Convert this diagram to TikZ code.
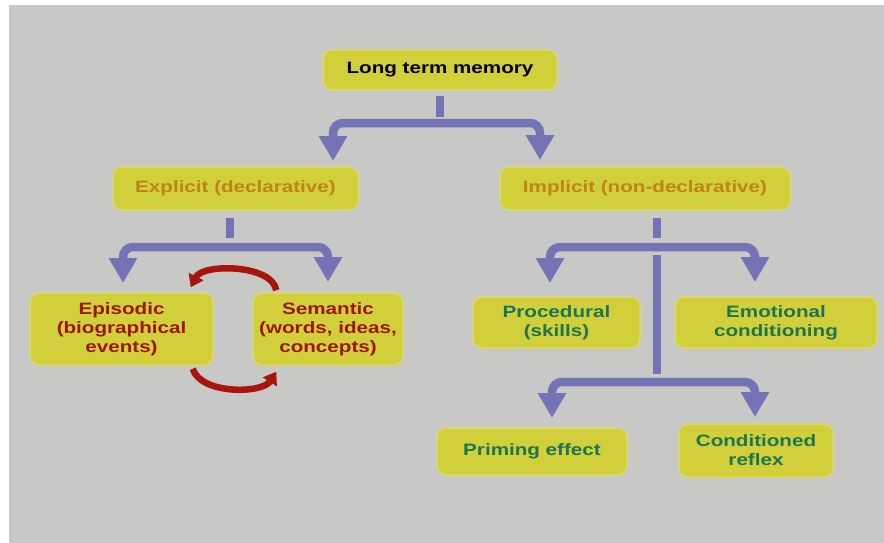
\documentclass[tikz,border=0pt]{standalone}
\usepackage{fontspec}
\newfontfamily\dfont[FakeStretch=1.25]{Liberation Sans}
\usetikzlibrary{arrows.meta}
\definecolor{bg}{HTML}{C8C8C6}
\definecolor{boxy}{HTML}{D2D03A}
\definecolor{boxedge}{HTML}{DAD96E}
\definecolor{txtor}{HTML}{C0821A}
\definecolor{txtred}{HTML}{9E150E}
\definecolor{txtgr}{HTML}{1C7452}
\definecolor{arrblue}{HTML}{7373B5}
\definecolor{arcred}{HTML}{A8150F}
\tikzset{
  box/.style={rounded corners=9pt, fill=boxy, draw=boxedge, line width=1.5pt,
    inner sep=0pt, align=center, font=\dfont\bfseries\fontsize{16.5}{19}\selectfont},
  stub/.style={draw=arrblue, line width=8pt},
  barr/.style={draw=arrblue, line width=8.5pt, rounded corners=10pt,
    {Triangle[width=27pt,length=25pt]}-{Triangle[width=27pt,length=25pt]}},
  arcarr/.style={draw=arcred, line width=6.5pt, -{Triangle[width=16pt,length=12pt]}},
}
\begin{document}
\begin{tikzpicture}[x=1pt,y=-1pt]
\useasboundingbox (0,0) rectangle (884,543);
\fill[white] (0,0) rectangle (884,543);
\fill[bg] (9,5) rectangle (884,543);

% nodes
\node[box, minimum width=234pt, minimum height=40pt, text=black] (ltm) at (440,70) {Long term memory};
\node[box, minimum width=245pt, minimum height=43pt, text=txtor] (expl) at (235.5,188.5) {Explicit (declarative)};
\node[box, minimum width=290pt, minimum height=43pt, text=txtor] (impl) at (645,188.5) {Implicit (non-declarative)};
\node[box, minimum width=183pt, minimum height=72pt, text=txtred] (epi) at (121.5,329) {Episodic\\(biographical\\events)};
\node[box, minimum width=150pt, minimum height=72pt, text=txtred] (sem) at (328,329) {Semantic\\(words, ideas,\\concepts)};
\node[box, minimum width=167pt, minimum height=51pt, text=txtgr] (proc) at (556.5,322.5) {Procedural\\(skills)};
\node[box, minimum width=202pt, minimum height=51pt, text=txtgr] (emo) at (776,322.5) {Emotional\\conditioning};
\node[box, minimum width=190pt, minimum height=47pt, text=txtgr] (prim) at (532,451.5) {Priming effect};
\node[box, minimum width=154pt, minimum height=53pt, text=txtgr] (cond) at (756,450.5) {Conditioned\\reflex};

% coordinates
\coordinate (s1) at (440,117);
\coordinate (m1) at (440,123);
\coordinate (t1) at (333,161);
\coordinate (t2) at (540,160);

\coordinate (s2) at (230,238);
\coordinate (m2) at (230,247);
\coordinate (t3) at (123,283);
\coordinate (t4) at (328,282);

\coordinate (s3) at (657,238);
\coordinate (m3) at (657,247);
\coordinate (t5) at (550,283);
\coordinate (t6) at (755,282);
\coordinate (v1) at (657,255);
\coordinate (v2) at (657,374);
\coordinate (m4) at (657,382);
\coordinate (t7) at (552,418);
\coordinate (t8) at (755,417);

% connectors
\draw[stub] (s1 |- ltm.south) ++(0,5) -- (s1);
\draw[barr] (t1) |- (m1) -| (t2);

\draw[stub] (s2 |- expl.south) ++(0,7) -- (s2);
\draw[barr] (t3) |- (m2) -| (t4);

\draw[stub] (s3 |- impl.south) ++(0,7) -- (s3);
\draw[barr] (t5) |- (m3) -| (t6);
\draw[stub] (v1) -- (v2);
\draw[barr] (t7) |- (m4) -| (t8);

% red cycle arrows
\draw[arcarr] ([xshift=24pt,yshift=2pt]sem.north west) .. controls +(-4,-26) and +(12,-24) .. ([xshift=-23pt,yshift=5pt]epi.north east);
\draw[arcarr] ([xshift=-21pt,yshift=-3pt]epi.south east) .. controls +(8,26) and +(-14,22) .. ([xshift=24pt,yshift=-6pt]sem.south west);
\end{tikzpicture}
\end{document}
